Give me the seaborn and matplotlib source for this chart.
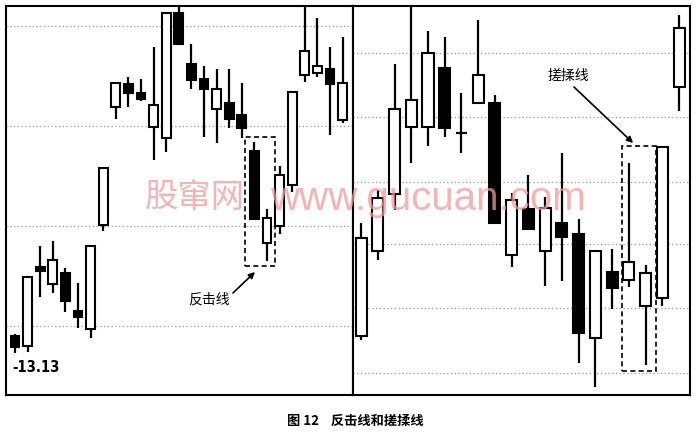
import matplotlib
matplotlib.use('Agg')
import matplotlib.pyplot as plt
import seaborn as sns
import numpy as np
import pandas as pd
from matplotlib.patches import Rectangle

# Données (open, high, low, close)
# panneau gauche : 反击线
gauche_open = [13.30, 13.20, 13.99, 13.82, 13.93, 13.55, 13.37, 14.41, 15.59, 15.82,
               15.73, 15.39, 15.28, 16.53, 16.02, 15.87, 15.57, 15.63, 15.51, 15.15,
               14.23, 14.40, 14.81, 15.91, 15.93, 15.97, 15.46]
gauche_high = [13.32, 13.90, 14.20, 14.25, 13.98, 13.83, 14.20, 14.98, 15.83, 15.89,
               15.87, 16.19, 16.53, 16.70, 16.22, 16.00, 15.97, 15.97, 15.83, 15.24,
               14.57, 15.00, 15.74, 16.70, 16.48, 16.19, 16.29]
gauche_low = [13.13, 13.14, 13.69, 13.73, 13.54, 13.38, 13.28, 14.35, 15.47, 15.59,
              15.65, 15.06, 15.14, 16.22, 15.77, 15.29, 15.23, 15.38, 15.28, 14.47,
              14.05, 14.32, 14.74, 15.84, 15.89, 15.31, 15.43]
gauche_close = [13.19, 13.89, 13.95, 14.06, 13.65, 13.49, 14.20, 14.98, 15.83, 15.73,
                15.67, 15.61, 16.53, 16.22, 15.86, 15.77, 15.77, 15.47, 15.38, 14.47,
                14.48, 14.91, 15.74, 16.15, 16.00, 15.82, 15.83]
gauche_grille = [13.4, 14.4, 15.4, 16.4]

# panneau droit : 搓揉线
droite_open = [10.64, 11.49, 12.06, 12.73, 12.73, 13.32, 12.67, 12.97, 12.97, 11.45,
               11.91, 11.49, 11.77, 11.66, 10.62, 11.28, 11.20, 10.94, 11.02, 13.13]
droite_high = [11.77, 12.10, 13.36, 14.05, 13.69, 13.63, 13.07, 13.80, 13.05, 12.07,
               12.25, 12.03, 12.47, 11.81, 11.49, 11.51, 12.37, 11.35, 12.53, 13.85]
droite_low = [10.60, 11.40, 11.90, 12.37, 12.54, 12.63, 12.47, 12.97, 11.77, 11.33,
              11.71, 11.14, 11.19, 10.37, 10.13, 10.91, 11.13, 10.35, 10.94, 12.89]
droite_close = [11.62, 12.02, 12.91, 13.00, 13.47, 12.72, 12.67, 13.25, 11.77, 12.00,
                11.71, 11.92, 11.63, 10.67, 11.49, 11.12, 11.38, 11.27, 12.53, 13.72]
droite_grille = [13.47, 12.83, 12.18, 11.56, 10.92, 10.27]

sns.set_theme(style='white')
plt.rcParams['font.family'] = ['Noto Sans CJK SC', 'DejaVu Sans']
plt.rcParams['text.color'] = 'black'


def tracer_bougies(ax, df, largeur):
    x = np.arange(len(df))
    o, h, l, c = df['open'].values, df['high'].values, df['low'].values, df['close'].values
    ax.vlines(x, l, h, color='black', lw=1.6, zorder=2)
    bas = np.minimum(o, c)
    haut = np.abs(c - o)
    hausse = (c > o)
    baisse = (c < o)
    doji = (c == o)
    ax.bar(x[hausse], haut[hausse], largeur, bottom=bas[hausse], color='white',
           edgecolor='black', linewidth=1.5, zorder=3)
    ax.bar(x[baisse], haut[baisse], largeur, bottom=bas[baisse], color='black',
           edgecolor='black', linewidth=1.5, zorder=3)
    ax.hlines(o[doji], x[doji] - largeur / 2, x[doji] + largeur / 2, color='black', lw=1.6, zorder=3)


def habiller(ax, grille):
    for y in grille:
        ax.axhline(y, color='#999999', ls=(0, (1, 2)), lw=0.9, zorder=1)
    ax.set_xticks([])
    ax.set_yticks([])
    for s in ax.spines.values():
        s.set_visible(True)
        s.set_color('black')
        s.set_linewidth(1.5)


fleche = dict(arrowstyle='-|>', color='black', lw=1.2, mutation_scale=9, shrinkA=0, shrinkB=0)

df_g = pd.DataFrame({'open': gauche_open, 'high': gauche_high, 'low': gauche_low, 'close': gauche_close})
df_d = pd.DataFrame({'open': droite_open, 'high': droite_high, 'low': droite_low, 'close': droite_close})

fig = plt.figure(figsize=(6.97, 4.32), dpi=100)
ax1 = fig.add_axes([6 / 697, 37 / 432, 347 / 697, 389 / 432])
ax2 = fig.add_axes([353 / 697, 37 / 432, 337 / 697, 389 / 432])

# panneau gauche
tracer_bougies(ax1, df_g, 0.7)
habiller(ax1, gauche_grille)
ax1.set_xlim(-0.714, 26.83)
ax1.set_ylim(12.71, 16.60)
ax1.add_patch(Rectangle((18.25, 14.00), 2.38, 1.29, fill=False, ec='black', lw=1.2,
                        ls=(0, (3, 2)), zorder=4))
ax1.text(15.4, 13.67, '反击线', ha='center', va='center', fontsize=10)
ax1.annotate('', xy=(19.05, 13.94), xytext=(17.3, 13.73), arrowprops=fleche)
ax1.text(-0.24, 12.99, '-13.13', fontsize=10.5, fontweight='bold', va='center', ha='left',
         stretch='condensed', family=['DejaVu Sans'])

# panneau droit
tracer_bougies(ax2, df_d, 0.66)
habiller(ax2, droite_grille)
ax2.set_xlim(-0.48, 19.65)
ax2.set_ylim(10.05, 13.94)
ax2.add_patch(Rectangle((15.59, 10.29), 2.03, 2.25, fill=False, ec='black', lw=1.2,
                        ls=(0, (3, 2)), zorder=4))
ax2.text(12.37, 13.24, '搓揉线', ha='center', va='center', fontsize=10)
ax2.annotate('', xy=(16.25, 12.57), xytext=(12.72, 13.13), arrowprops=fleche)

# filigrane
fig.text(145 / 697, 1 - 197.5 / 432, '股窜网', fontsize=24, color='#f29a9a', alpha=0.75,
         va='center', ha='left', zorder=10)
fig.text(270 / 697, 1 - 210 / 432, 'www.gucuan.com', fontsize=29, color='#f29a9a', alpha=0.75,
         va='baseline', ha='left', family=['Liberation Sans', 'DejaVu Sans'], zorder=10)

# légende du bas
fig.text(287 / 697, 1 - 421 / 432, '图 12    反击线和搓揉线', fontsize=9.5, fontweight='bold',
         va='center', ha='left')

plt.savefig('out.png', dpi=100)
